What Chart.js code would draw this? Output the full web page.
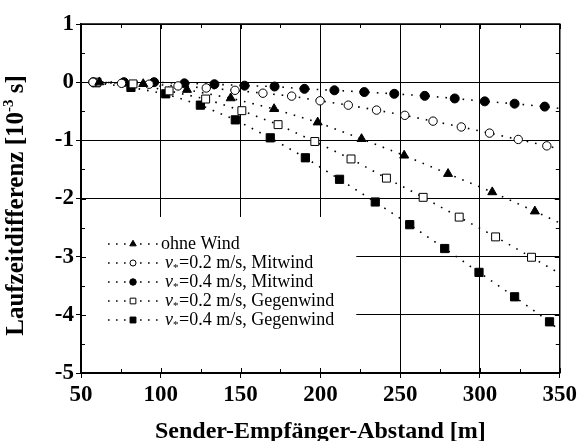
<!DOCTYPE html>
<html>
<head>
<meta charset="utf-8">
<script src="https://cdn.jsdelivr.net/npm/chart.js@4.4.1/dist/chart.umd.min.js"></script>
<style>
  body { margin: 0; background: #fff; }
  #box { width: 580px; height: 441px; position: relative; }
</style>
</head>
<body>
<div id="box"><canvas id="myChart"></canvas></div>
<script>
// distances [m] and delays [10^-3 s]
const xOhne  = [61.5, 89, 116.4, 143.8, 171, 198.3, 225.8, 252.5, 280, 307.7, 334.4];
const yOhne  = [0, -0.03, -0.13, -0.275, -0.46, -0.69, -0.975, -1.26, -1.575, -1.89, -2.22];
const xMit02 = [57.5, 75.4, 92.7, 110.8, 128.5, 146.5, 164, 182, 199.8, 217.5, 235.2, 252.9, 270.6, 288.3, 306, 324, 341.9];
const yMit02 = [0, -0.02, -0.035, -0.065, -0.1, -0.14, -0.19, -0.24, -0.32, -0.395, -0.48, -0.57, -0.67, -0.77, -0.876, -0.985, -1.095];
const xMit04 = [57.7, 76.9, 95.8, 114.8, 133.6, 152.5, 171.3, 190, 208.8, 227.5, 246.3, 265.4, 284.2, 303, 321.7, 340.6];
const yMit04 = [0, 0, 0, -0.02, -0.035, -0.06, -0.075, -0.115, -0.14, -0.17, -0.2, -0.235, -0.28, -0.33, -0.37, -0.42];
const xGeg02 = [60, 82.6, 105.2, 128.1, 150.8, 173.5, 196.5, 219.2, 241.4, 264.4, 287, 309.8, 332.3];
const yGeg02 = [0, -0.03, -0.15, -0.29, -0.49, -0.73, -1.02, -1.32, -1.65, -1.98, -2.32, -2.66, -3.01];
const xGeg04 = [59.4, 81.3, 103.1, 124.8, 146.7, 168.6, 190.6, 212, 234.4, 256, 277.9, 299.4, 321.7, 343.6];
const yGeg04 = [-0.01, -0.09, -0.2, -0.395, -0.648, -0.957, -1.3, -1.67, -2.06, -2.45, -2.86, -3.27, -3.69, -4.12];
// where the dotted fit lines hit the right border (x = 350)
const fitEnd = [-2.42, -1.15, -0.45, -3.29, -4.27];

const labels = ["ohne Wind", "0.2 m/s, Mitwind", "0.4 m/s, Mitwind", "0.2 m/s, Gegenwind", "0.4 m/s, Gegenwind"];
const xTicks = [50, 100, 150, 200, 250, 300, 350];
const yTicks = [1, 0, -1, -2, -3, -4, -5];

const xs = [xOhne, xMit02, xMit04, xGeg02, xGeg04];
const ys = [yOhne, yMit02, yMit04, yGeg02, yGeg04];
const styles = [
  {pointStyle: "triangle", r: 5.2, fill: "#000"},
  {pointStyle: "circle", r: 4.2, fill: "#fff"},
  {pointStyle: "circle", r: 4.5, fill: "#000"},
  {pointStyle: "rect", r: 5.6, fill: "#fff"},
  {pointStyle: "rect", r: 5.8, fill: "#000"}
];

function pts(i) {
  return xs[i].map((x, j) => ({x: x, y: ys[i][j]}));
}

let datasets = [];
for (let i = 0; i < 5; i++) {
  datasets.push({
    label: labels[i],
    data: pts(i),
    showLine: false,
    pointStyle: styles[i].pointStyle,
    pointRadius: styles[i].r,
    backgroundColor: styles[i].fill,
    borderColor: "#000",
    borderWidth: 1
  });
}
for (let i = 0; i < 5; i++) {
  datasets.push({
    label: labels[i] + " fit",
    data: pts(i).concat([{x: 350, y: fitEnd[i]}]),
    showLine: true,
    pointRadius: 0,
    borderColor: "#000",
    borderWidth: 1.6,
    borderDash: [1.6, 7],
    fill: false
  });
}

const serif = "'Liberation Serif', 'Times New Roman', serif";

const framePlugin = {
  id: "frame",
  beforeDatasetsDraw(chart) {
    const ctx = chart.ctx, a = chart.chartArea;
    const xs_ = chart.scales.x;
    // white legend box hides the grid lines below it
    ctx.save();
    ctx.fillStyle = "#fff";
    ctx.fillRect(a.left + 1, 217, xs_.getPixelForValue(222.5) - a.left - 1, a.bottom - 217 - 1);
    ctx.restore();
  },
  afterDatasetsDraw(chart) {
    const ctx = chart.ctx, a = chart.chartArea;
    const sx = chart.scales.x, sy = chart.scales.y;
    ctx.save();
    ctx.strokeStyle = "#000";
    ctx.lineWidth = 1.5;
    ctx.strokeRect(a.left, a.top, a.right - a.left, a.bottom - a.top);
    ctx.lineWidth = 1;
    ctx.beginPath();
    // inward ticks, major 5 px, minor 4 px
    for (let v = 50; v <= 350; v += 25) {
      const p = Math.round(sx.getPixelForValue(v)) + 0.5;
      const len = v % 50 === 0 ? 5 : 4;
      ctx.moveTo(p, a.bottom); ctx.lineTo(p, a.bottom - len);
      ctx.moveTo(p, a.top); ctx.lineTo(p, a.top + len);
    }
    for (let v = -5; v <= 1; v += 0.5) {
      const p = Math.round(sy.getPixelForValue(v)) + 0.5;
      const len = Number.isInteger(v) ? 5 : 4;
      ctx.moveTo(a.left, p); ctx.lineTo(a.left + len, p);
      ctx.moveTo(a.right, p); ctx.lineTo(a.right - len, p);
    }
    ctx.stroke();

    // legend
    const rows = [244, 263, 282, 301, 320];
    for (let i = 0; i < 5; i++) {
      const y = rows[i];
      ctx.save();
      ctx.setLineDash([1.6, 6.4]);
      ctx.lineWidth = 1.6;
      ctx.beginPath();
      ctx.moveTo(108, y); ctx.lineTo(158, y);
      ctx.stroke();
      ctx.restore();
      ctx.fillStyle = styles[i].fill;
      ctx.strokeStyle = "#000";
      ctx.lineWidth = 1;
      Chart.helpers.drawPoint(ctx, {pointStyle: styles[i].pointStyle, radius: styles[i].r * 0.72, rotation: 0, borderWidth: 1}, 133, y);
      ctx.fillStyle = "#000";
      ctx.textBaseline = "middle";
      ctx.textAlign = "left";
      if (i === 0) {
        ctx.font = "18px " + serif;
        ctx.fillText(labels[0], 161, y);
      } else {
        ctx.font = "italic 18px " + serif;
        ctx.fillText("v", 165, y);
        let x = 165 + ctx.measureText("v").width;
        ctx.font = "11px " + serif;
        ctx.fillText("*", x, y + 5);
        x += ctx.measureText("*").width + 0.5;
        ctx.font = "18px " + serif;
        ctx.fillText("=" + labels[i], x, y);
      }
    }

    // axis titles
    ctx.fillStyle = "#000";
    ctx.textBaseline = "middle";
    ctx.textAlign = "center";
    ctx.font = "bold 24px " + serif;
    ctx.fillText("Sender-Empfänger-Abstand [m]", (a.left + a.right) / 2, 432);

    ctx.translate(17, (a.top + a.bottom) / 2 + 7);
    ctx.rotate(-Math.PI / 2);
    const big = "bold 25px " + serif, small = "bold 15px " + serif;
    const p1 = "Laufzeitdifferenz [10", p2 = "-3", p3 = " s]";
    ctx.font = big; const w1 = ctx.measureText(p1).width, w3 = ctx.measureText(p3).width;
    ctx.font = small; const w2 = ctx.measureText(p2).width;
    let x0 = -(w1 + w2 + w3) / 2;
    ctx.textAlign = "left";
    ctx.font = big; ctx.fillText(p1, x0, 0);
    ctx.font = small; ctx.fillText(p2, x0 + w1, -8);
    ctx.font = big; ctx.fillText(p3, x0 + w1 + w2, 0);
    ctx.restore();
  }
};

const ctx = document.getElementById("myChart");
new Chart(ctx, {
  type: "scatter",
  data: {datasets: datasets},
  options: {
    responsive: true,
    maintainAspectRatio: false,
    animation: false,
    layout: {padding: {top: 24, right: 18, left: 0, bottom: 0}},
    plugins: {legend: {display: false}, tooltip: {enabled: false}},
    scales: {
      x: {
        type: "linear",
        min: 50, max: 350,
        afterBuildTicks: s => { s.ticks = xTicks.map(v => ({value: v})); },
        afterFit: s => { s.height = 68; },
        grid: {color: "#000", lineWidth: 1, tickLength: 5, tickColor: "#000"},
        border: {color: "#000", width: 1.5},
        ticks: {color: "#000", padding: 3, maxRotation: 0, font: {family: serif, weight: "bold", size: 23}}
      },
      y: {
        type: "linear",
        min: -5, max: 1,
        afterBuildTicks: s => { s.ticks = yTicks.map(v => ({value: v})); },
        afterFit: s => { s.width = 81; },
        grid: {color: "#000", lineWidth: 1, tickLength: 5, tickColor: "#000"},
        border: {color: "#000", width: 1.5},
        ticks: {color: "#000", padding: 2, font: {family: serif, weight: "bold", size: 23}}
      }
    }
  },
  plugins: [framePlugin]
});
</script>
</body>
</html>
